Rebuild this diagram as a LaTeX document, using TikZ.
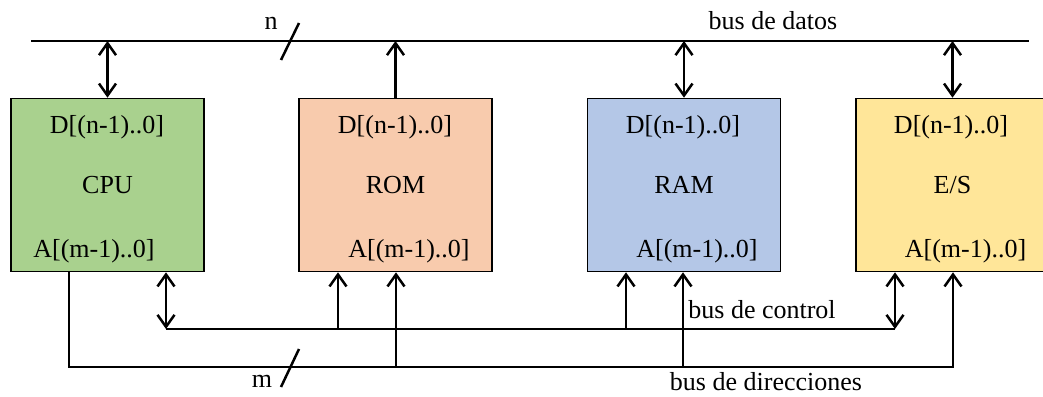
\documentclass[tikz,border=0pt]{standalone}
\usepackage{fontspec}
\setmainfont{Liberation Serif}
\usepackage{tikz}
\usetikzlibrary{arrows.meta}

\definecolor{cpucol}{HTML}{A9D18E}
\definecolor{romcol}{HTML}{F8CBAD}
\definecolor{ramcol}{HTML}{B4C7E7}
\definecolor{escol}{HTML}{FFE699}

\begin{document}
\begin{tikzpicture}[x=0.5pt, y=-0.5pt,
		every node/.style={font=\fontsize{13}{15}\selectfont},
		bloque/.style={rectangle, draw=black, line width=0.8pt, minimum width=96.5pt, minimum height=86.5pt, inner sep=0pt},
		etiq/.style={anchor=base, inner sep=0pt},
		bus/.style={line width=1.25pt},
		>={Straight Barb[length=6pt,width=8.5pt,line width=1.25pt]}]
			\useasboundingbox (0,0) rectangle (1043,396);
			
			\node[bloque, fill=cpucol] (cpu) at (107.5,185) {CPU};
			\node[bloque, fill=romcol] (rom) at (395.5,185) {ROM};
			\node[bloque, fill=ramcol] (ram) at (684,185) {RAM};
			\node[bloque, fill=escol] (es) at (952.5,185) {E/S};
			
			\node[etiq] (dcpu) at (107,133) {D[(n-1)..0]};
			\node[etiq] (drom) at (395,133) {D[(n-1)..0]};
			\node[etiq] (dram) at (683,133) {D[(n-1)..0]};
			\node[etiq] (des) at (951,133) {D[(n-1)..0]};
			
			\node[etiq] (acpu) at (94,257) {A[(m-1)..0]};
			\node[etiq] (arom) at (409,257) {A[(m-1)..0]};
			\node[etiq] (aram) at (697,257) {A[(m-1)..0]};
			\node[etiq] (aes) at (965.5,257) {A[(m-1)..0]};
			
			% bus de datos
			\coordinate (datosL) at (31,41);
			\coordinate (datosR) at (1029,41);
			\draw[bus] (datosL) -- (datosR);
			\node[etiq] (ldatos) at (773,29) {bus de datos};
			\node[etiq] (ln) at (271,29) {n};
			\draw[bus] (281,60) -- (299,23);
			
			\draw[bus, <->] (cpu.north) -- (cpu.north |- datosL);
			\draw[bus, ->] (rom.north) -- (rom.north |- datosL);
			\draw[bus, <->] (ram.north) -- (ram.north |- datosL);
			\draw[bus, <->] (es.north) -- (es.north |- datosL);
			
			% bus de control
			\coordinate (c1) at (166,329);
			\coordinate (c2) at (338,329);
			\coordinate (c3) at (626,329);
			\coordinate (c4) at (895,329);
			\draw[bus] (c1) -- (c4);
			\draw[bus, <->] (cpu.south -| c1) -- (c1);
			\draw[bus, ->] (c2) -- (rom.south -| c2);
			\draw[bus, ->] (c3) -- (ram.south -| c3);
			\draw[bus, <->] (es.south -| c4) -- (c4);
			\node[etiq, anchor=base west] (lcontrol) at (688,318) {bus de control};
			
			% bus de direcciones
			\coordinate (a1) at (69,367);
			\coordinate (a2) at (396,367);
			\coordinate (a3) at (683,367);
			\coordinate (a4) at (953,367);
			\draw[bus, ->] (cpu.south -| a1) -- (a1) -- (a4) -- (es.south -| a4);
			\draw[bus, ->] (a2) -- (rom.south -| a2);
			\draw[bus, ->] (a3) -- (ram.south -| a3);
			\node[etiq] (ldir) at (766,390) {bus de direcciones};
			\node[etiq] (lm) at (262,387) {m};
			\draw[bus] (281,387) -- (299,349);
		\end{tikzpicture}
\end{document}
